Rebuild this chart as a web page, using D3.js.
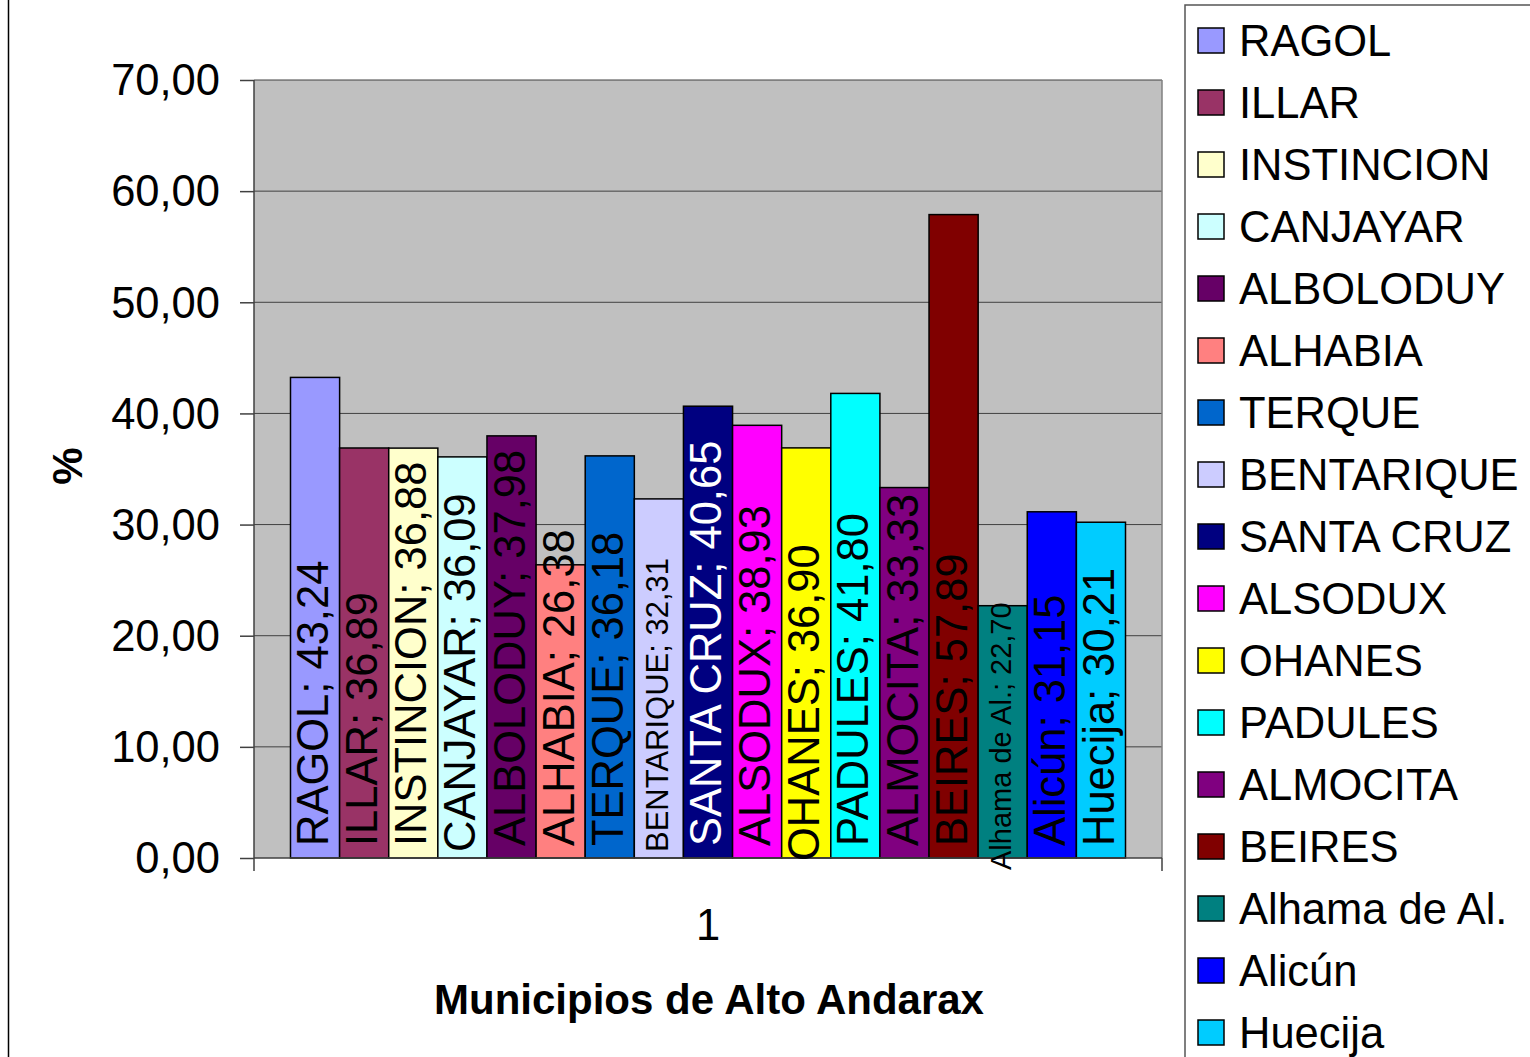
<!DOCTYPE html>
<html>
<head>
<meta charset="utf-8">
<script src="https://cdn.jsdelivr.net/npm/d3@7"></script>
<style>
    body { margin: 0; background: #fff; }
    svg { display: block; font-family: "Liberation Sans", Arial, sans-serif; }
</style>
</head>
<body>
<div id="chart"></div>
<script>
// data
const municipios = ["RAGOL", "ILLAR", "INSTINCION", "CANJAYAR", "ALBOLODUY", "ALHABIA", "TERQUE",
    "BENTARIQUE", "SANTA CRUZ", "ALSODUX", "OHANES", "PADULES", "ALMOCITA", "BEIRES",
    "Alhama de Al.", "Alicún", "Huecija"];
const porcentajes = [43.24, 36.89, 36.88, 36.09, 37.98, 26.38, 36.18, 32.31, 40.65, 38.93,
    36.90, 41.80, 33.33, 57.89, 22.70, 31.15, 30.21];
const yTicks = [0, 10, 20, 30, 40, 50, 60, 70];
const categoryLabel = "1";

const colores = ["#9999FF", "#993366", "#FFFFCC", "#CCFFFF", "#660066", "#FF8080", "#0066CC",
    "#CCCCFF", "#000080", "#FF00FF", "#FFFF00", "#00FFFF", "#800080", "#800000",
    "#008080", "#0000FF", "#00CCFF"];

// labels that Excel shrank / recoloured / nudged
const labelSize = {"BENTARIQUE": 31, "Alhama de Al.": 29};
const labelColor = {"SANTA CRUZ": "#fff"};
const labelDrop = {"OHANES": 15, "Alhama de Al.": 24, "CANJAYAR": 6, "BENTARIQUE": 6};

const fmt = v => d3.format(".2f")(v).replace(".", ",");

const W = 1530, H = 1057;
const plot = {left: 254, right: 1162, top: 80, bottom: 858};
const fs = 43.5;

const svg = d3.select("#chart").append("svg")
    .attr("width", W)
    .attr("height", H);

// outer chart border (only left side visible)
svg.append("rect")
    .attr("x", 8.5).attr("y", -10)
    .attr("width", W + 20).attr("height", H + 20)
    .attr("fill", "none").attr("stroke", "#000").attr("stroke-width", 1.5);

const y = d3.scaleLinear().domain([0, 70]).range([plot.bottom, plot.top]);
const x = d3.scaleBand().domain(municipios)
    .range([plot.left, plot.right])
    .paddingInner(0).paddingOuter(0.743);

// plot background
svg.append("rect")
    .attr("x", plot.left).attr("y", plot.top)
    .attr("width", plot.right - plot.left).attr("height", plot.bottom - plot.top)
    .attr("fill", "#C0C0C0");

// gridlines
svg.append("g")
    .selectAll("line")
    .data(yTicks.filter(d => d > 0))
    .join("line")
    .attr("x1", plot.left).attr("x2", plot.right)
    .attr("y1", d => y(d)).attr("y2", d => y(d))
    .attr("stroke", "#404040").attr("stroke-width", 1);

// right border of plot
svg.append("line")
    .attr("x1", plot.right).attr("x2", plot.right)
    .attr("y1", plot.top).attr("y2", plot.bottom)
    .attr("stroke", "#808080").attr("stroke-width", 1.5);

// bars
svg.append("g")
    .selectAll("rect")
    .data(municipios)
    .join("rect")
    .attr("x", d => x(d))
    .attr("y", (d, i) => y(porcentajes[i]))
    .attr("width", x.bandwidth())
    .attr("height", (d, i) => y(0) - y(porcentajes[i]))
    .attr("fill", (d, i) => colores[i])
    .attr("stroke", "#000").attr("stroke-width", 1.5);

// y axis
const yAxis = svg.append("g")
    .attr("transform", `translate(${plot.left},0)`)
    .call(d3.axisLeft(y).tickValues(yTicks).tickFormat(fmt).tickSize(14).tickPadding(20));
yAxis.select(".domain").remove();
yAxis.selectAll(".tick line").attr("stroke", "#404040").attr("stroke-width", 1.5);
yAxis.selectAll(".tick text")
    .attr("font-family", "Liberation Sans, Arial, sans-serif")
    .attr("font-size", fs).attr("fill", "#000").attr("dy", "0.34em");

// axis lines
svg.append("line")
    .attr("x1", plot.left).attr("x2", plot.left)
    .attr("y1", plot.top).attr("y2", plot.bottom + 13)
    .attr("stroke", "#404040").attr("stroke-width", 1.5);
svg.append("line")
    .attr("x1", plot.left).attr("x2", plot.right)
    .attr("y1", plot.bottom).attr("y2", plot.bottom)
    .attr("stroke", "#404040").attr("stroke-width", 1.5);
svg.append("line")
    .attr("x1", plot.right).attr("x2", plot.right)
    .attr("y1", plot.bottom).attr("y2", plot.bottom + 13)
    .attr("stroke", "#404040").attr("stroke-width", 1.5);

// data labels (rotated, starting at base of bar)
svg.append("g")
    .selectAll("text")
    .data(municipios)
    .join("text")
    .attr("transform", d => `translate(${x(d) + x.bandwidth() / 2},${y(0) - 12 + (labelDrop[d] || 0)}) rotate(-90)`)
    .attr("dy", "0.3em")
    .attr("font-size", d => labelSize[d] || fs)
    .attr("fill", d => labelColor[d] || "#000")
    .text((d, i) => `${d}; ${fmt(porcentajes[i])}`);

// category label
svg.append("text")
    .attr("x", (plot.left + plot.right) / 2)
    .attr("y", 940)
    .attr("text-anchor", "middle")
    .attr("font-size", fs)
    .text(categoryLabel);

// axis titles
svg.append("text")
    .attr("x", (plot.left + plot.right) / 2 + 1)
    .attr("y", 1014)
    .attr("text-anchor", "middle")
    .attr("font-size", 42).attr("font-weight", "bold")
    .text("Municipios de Alto Andarax");

svg.append("text")
    .attr("transform", "translate(82,466) rotate(-90)")
    .attr("text-anchor", "middle")
    .attr("font-size", 42).attr("font-weight", "bold")
    .text("%");

// legend
const legend = svg.append("g");
legend.append("rect")
    .attr("x", 1185).attr("y", 5)
    .attr("width", 400).attr("height", 1100)
    .attr("fill", "#fff").attr("stroke", "#555").attr("stroke-width", 1.5);

const item = legend.selectAll("g.item")
    .data(municipios)
    .join("g")
    .attr("class", "item")
    .attr("transform", (d, i) => `translate(1198,${40.5 + i * 62})`);

item.append("rect")
    .attr("x", 0).attr("y", -12.5)
    .attr("width", 26).attr("height", 25)
    .attr("fill", (d, i) => colores[i])
    .attr("stroke", "#000").attr("stroke-width", 1.5);

item.append("text")
    .attr("x", 41).attr("y", 15.5)
    .attr("font-size", fs)
    .text(d => d);
</script>
</body>
</html>
